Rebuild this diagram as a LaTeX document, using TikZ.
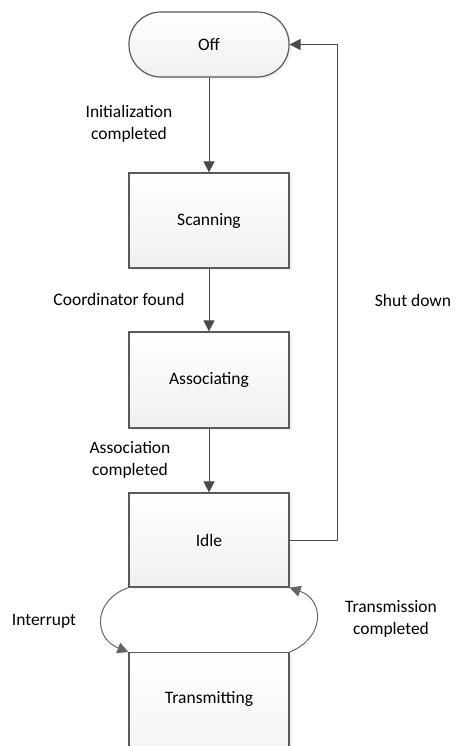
\documentclass[tikz,border=0pt]{standalone}
\usepackage{fontspec}
\setmainfont{Carlito}
\usetikzlibrary{arrows.meta,shadows}
\definecolor{edge}{HTML}{4a4a4a}
\definecolor{boxline}{HTML}{5a5a5a}
\tikzset{
  state/.style={draw=boxline, line width=1.2pt, top color=white, bottom color=black!6,
    minimum width=160pt, minimum height=95pt, inner sep=0pt,
    font=\fontsize{17.5}{22}\selectfont,
    drop shadow={shadow xshift=2.5pt, shadow yshift=-2pt, fill=black!10, opacity=0.5}},
  terminal/.style={state, rounded corners=32pt, minimum height=65pt},
  lbl/.style={font=\fontsize{17.5}{22}\selectfont, align=center, inner sep=0pt},
  flow/.style={draw=edge, line width=1pt, -{Triangle[length=11pt,width=11pt]}},
  swing/.style={draw=edge!85, line width=1pt, -{Triangle[length=11pt,width=11pt]}},
}
\begin{document}
\begin{tikzpicture}[x=1pt,y=-1pt]
  \useasboundingbox (0,0) rectangle (455,746);
  \clip (0,0) rectangle (455,746);
  % states
  \node[terminal] (off) at (209,44.5) {Off};
  \node[state, minimum height=95pt] (scan) at (209,220.5) {Scanning};
  \node[state, minimum height=96pt] (assoc) at (209,380) {Associating};
  \node[state, minimum height=94pt] (idle) at (209,540) {Idle};
  \node[state, minimum height=140pt, anchor=north] (trans) at (209,652) {};
  \node[lbl] (transtxt) at (209,699) {Transmitting};
  % transitions
  \draw[flow] (off.south) -- (scan.north);
  \draw[flow] (scan.south) -- (assoc.north);
  \draw[flow] (assoc.south) -- (idle.north);
  \coordinate (sd) at (337,540);
  \draw[flow] (idle.east) -- (sd) |- (off.east);
  \draw[swing] (idle.south west) .. controls (93,600) and (93,638) .. (trans.north west);
  \draw[swing] (trans.north east) .. controls (325,638) and (325,600) .. (idle.south east);
  % transition labels
  \node[lbl] (l1) at (129,124) {Initialization\\completed};
  \node[lbl] (l2) at (119,299) {Coordinator found};
  \node[lbl] (l3) at (130,460) {Association\\completed};
  \node[lbl] (l4) at (413,300) {Shut down};
  \node[lbl] (l5) at (44,621) {Interrupt};
  \node[lbl] (l6) at (391,619) {Transmission\\completed};
\end{tikzpicture}
\end{document}
